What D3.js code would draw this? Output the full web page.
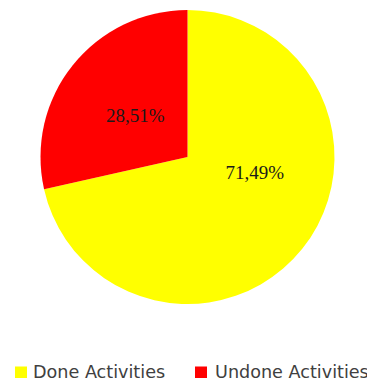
<!DOCTYPE html>
<html><head><meta charset="utf-8">
<script src="https://cdn.jsdelivr.net/npm/d3@7"></script>
<style>html,body{margin:0;padding:0;background:#fff;}svg{display:block;}</style>
</head><body>
<svg id="c" width="367" height="383"></svg>
<script>
const categories = ["Done Activities", "Undone Activities"];
const values = [71.49, 28.51];
const labels = ["71,49%", "28,51%"];
const colors = ["#ffff00", "#ff0000"];

const svg = d3.select("#c");
const cx = 187.5, cy = 157, R = 147;
const g = svg.append("g").attr("transform", `translate(${cx},${cy})`);

const pie = d3.pie().sort(null).value(d => d.v);
const data = pie(categories.map((c, i) => ({c, v: values[i], l: labels[i], col: colors[i]})));
const arc = d3.arc().innerRadius(0).outerRadius(R);

g.selectAll("path").data(data).enter().append("path")
  .attr("d", arc).attr("fill", d => d.data.col);

// label placement (polar, Excel best-fit like)
const labelPos = (d, i) => {
  const mid = (d.startAngle + d.endAngle) / 2;
  const a = i === 0 ? mid - 0.45 : mid;
  const r = i === 0 ? 69 : 67;
  return [r * Math.sin(a), -r * Math.cos(a)];
};
g.selectAll("text.lbl").data(data).enter().append("text")
  .attr("class", "lbl")
  .attr("transform", (d, i) => `translate(${labelPos(d, i)})`)
  .attr("text-anchor", "middle").attr("dy", "0.35em")
  .attr("font-family", "Liberation Serif, serif").attr("font-size", 19)
  .attr("fill", "#1a1a1a")
  .text(d => d.data.l);

// legend
const legendX = d3.scaleOrdinal().domain(categories).range([15, 195]);
const lg = svg.append("g");
const item = lg.selectAll("g").data(categories).enter().append("g")
  .attr("transform", d => `translate(${legendX(d)},366.5)`);
item.append("rect").attr("width", 12).attr("height", 11.5).attr("fill", (d, i) => colors[i]);
item.append("text").attr("x", (d, i) => i === 0 ? 18 : 20).attr("y", 11.5)
  .attr("font-family", "DejaVu Sans, sans-serif").attr("font-size", 17.6)
  .attr("fill", "#404040").text(d => d);
</script>
</body></html>
